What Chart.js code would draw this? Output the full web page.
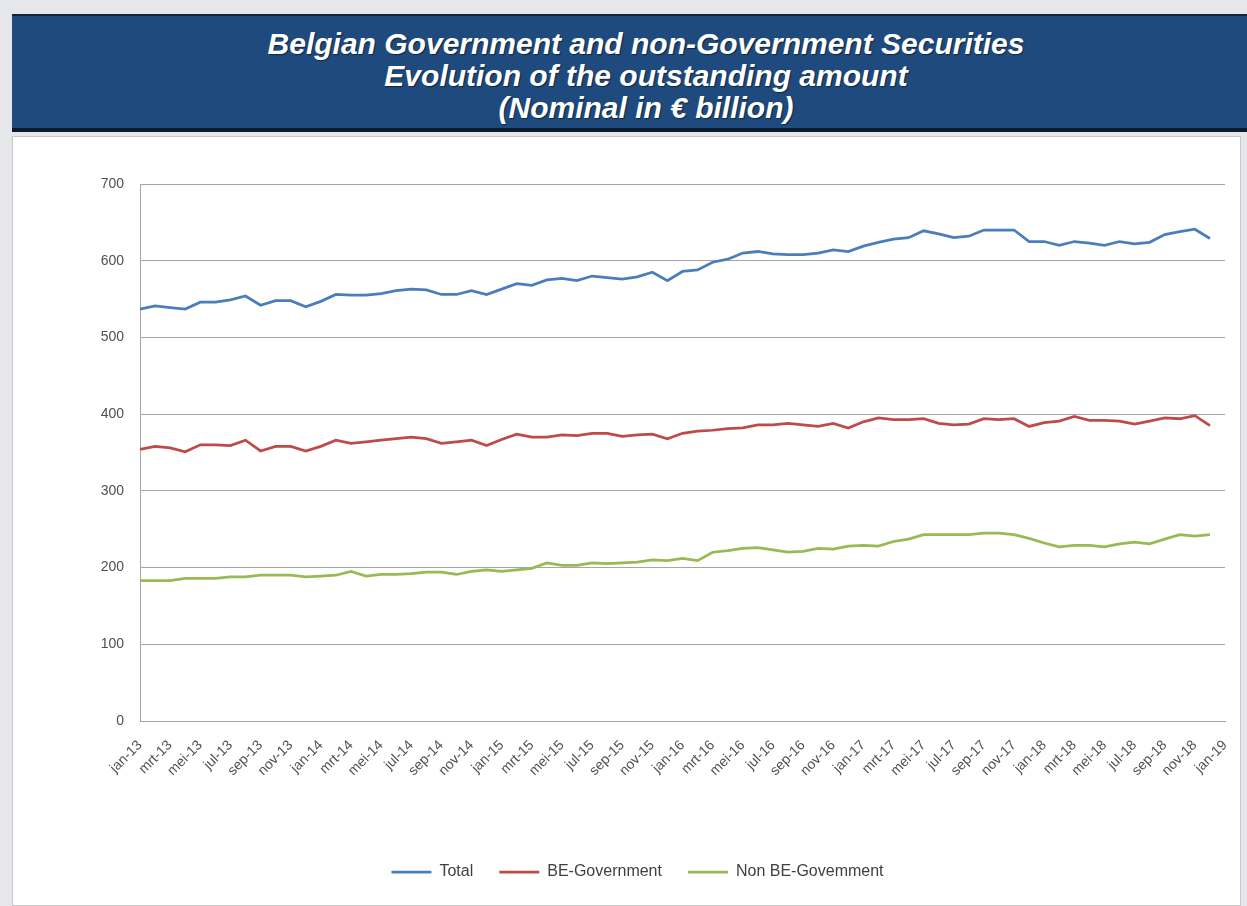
<!DOCTYPE html>
<html>
<head>
<meta charset="utf-8">
<script src="https://cdn.jsdelivr.net/npm/chart.js@4.4.1/dist/chart.umd.min.js"></script>
<style>
  html, body { margin: 0; padding: 0; }
  body {
    width: 1247px; height: 906px; position: relative; overflow: hidden;
    background: #e6e7eb; font-family: "Liberation Sans", Arial, sans-serif;
  }
  #banner {
    position: absolute; left: 12px; top: 14px; width: 1235px; height: 118px;
    box-sizing: border-box; padding: 12px 0 0 33px;
    background: #1f4a7e; border-top: 2px solid #10243f; border-bottom: 4px solid #0d1a2e;
    color: #fff; text-align: center; font-weight: bold; font-style: italic;
    font-size: 30px; line-height: 32px; text-shadow: 1px 1px 1px rgba(0, 0, 0, 0.5);
  }
  #box {
    position: absolute; left: 12px; top: 136px; width: 1229px; height: 770px;
    box-sizing: border-box; background: #fff; border: 1px solid #c8c8c8;
  }
  #wrap { position: absolute; left: 12px; top: 140px; width: 1228px; height: 766px; }
</style>
</head>
<body>
<div id="banner">
  Belgian Government and non-Government Securities<br>
  Evolution of the outstanding amount<br>
  (Nominal in € billion)
</div>
<div id="box"></div>
<div id="wrap"><canvas id="chart"></canvas></div>

<script>
// category labels: jan-13 .. jan-19
const MONTHS = ['jan', 'feb', 'mrt', 'apr', 'mei', 'jun', 'jul', 'aug', 'sep', 'okt', 'nov', 'dec']
const YEARS = ['13', '14', '15', '16', '17', '18']
const LABELS = []
YEARS.forEach(y => MONTHS.forEach(m => LABELS.push(m + '-' + y)))
LABELS.push('jan-19')

// values (EUR billion), jan-13 .. dec-18
const TOTAL = [
  537, 541, 539, 537, 546, 546, 549, 554, 542, 548, 548, 540,
  547, 556, 555, 555, 557, 561, 563, 562, 556, 556, 561, 556,
  563, 570, 568, 575, 577, 574, 580, 578, 576, 579, 585, 574,
  586, 588, 598, 602, 610, 612, 609, 608, 608, 610, 614, 612,
  619, 624, 628, 630, 639, 635, 630, 632, 640, 640, 640, 625,
  625, 620, 625, 623, 620, 625, 622, 624, 634, 638, 641, 629
]
const BE_GOV = [
  354, 358, 356, 351, 360, 360, 359, 366, 352, 358, 358, 352,
  358, 366, 362, 364, 366, 368, 370, 368, 362, 364, 366, 359,
  367, 374, 370, 370, 373, 372, 375, 375, 371, 373, 374, 368,
  375, 378, 379, 381, 382, 386, 386, 388, 386, 384, 388, 382,
  390, 395, 393, 393, 394, 388, 386, 387, 394, 393, 394, 384,
  389, 391, 397, 392, 392, 391, 387, 391, 395, 394, 398, 385
]
const NON_BE_GOV = [
  183, 183, 183, 186, 186, 186, 188, 188, 190, 190, 190, 188,
  189, 190, 195, 189, 191, 191, 192, 194, 194, 191, 195, 197,
  195, 197, 199, 206, 203, 203, 206, 205, 206, 207, 210, 209,
  212, 209, 220, 222, 225, 226, 223, 220, 221, 225, 224, 228,
  229, 228, 234, 237, 243, 243, 243, 243, 245, 245, 243, 238,
  232, 227, 229, 229, 227, 231, 233, 231, 237, 243, 241, 243
]

const FONT = 'Liberation Sans'
const GRID = '#a6a6a6'
const TEXT = '#505050'

const line = (label, data, color) => ({
  label,
  data,
  borderColor: color,
  backgroundColor: color,
  borderWidth: 2.75,
  pointRadius: 0,
  tension: 0
})

new Chart(document.getElementById('chart'), {
  type: 'line',
  data: {
    labels: LABELS,
    datasets: [
      line('Total', TOTAL, '#4a7ebb'),
      line('BE-Government', BE_GOV, '#be4b48'),
      line('Non BE-Govemment', NON_BE_GOV, '#98b954')
    ]
  },
  options: {
    responsive: true,
    maintainAspectRatio: false,
    animation: false,
    layout: { padding: { top: 44, right: 15, bottom: 16, left: 38 } },
    plugins: {
      tooltip: { enabled: false },
      legend: {
        position: 'bottom',
        labels: {
          usePointStyle: true,
          pointStyle: 'line',
          pointStyleWidth: 40,
          padding: 26,
          color: '#404040',
          font: { family: FONT, size: 16 }
        }
      }
    },
    scales: {
      x: {
        grid: { display: false },
        border: { color: GRID, width: 1 },
        ticks: {
          autoSkip: false,
          minRotation: 45,
          maxRotation: 45,
          padding: 8,
          color: TEXT,
          font: { family: FONT, size: 14 },
          callback: (v, i) => (i % 2 === 0 ? LABELS[i] : '')
        },
        afterFit: s => {
          s.height = 117
          // rotated labels hang to the left, no need to reserve room at the right
          s.paddingRight = 0
        }
      },
      y: {
        min: 0,
        max: 700,
        ticks: { stepSize: 100, padding: 16, color: TEXT, font: { family: FONT, size: 14 } },
        grid: { color: GRID, drawTicks: false },
        border: { color: GRID, width: 1 },
        afterFit: s => { s.width = 90 }
      }
    }
  }
})
</script>
</body>
</html>
